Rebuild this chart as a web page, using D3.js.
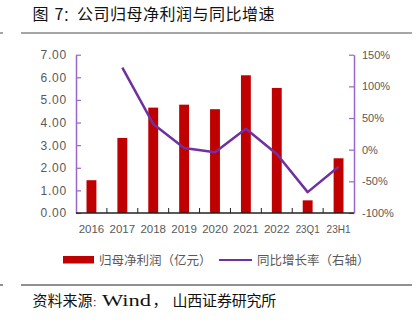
<!DOCTYPE html>
<html><head><meta charset="utf-8">
<script src="https://cdn.jsdelivr.net/npm/d3@7"></script>
<style>
body{margin:0;background:#fff;}
svg{display:block;}
</style></head>
<body><svg id="c" width="416" height="326"></svg>
<script>
const categories = ["2016","2017","2018","2019","2020","2021","2022","23Q1","23H1"];
const profit = [1.45, 3.32, 4.66, 4.79, 4.59, 6.09, 5.53, 0.56, 2.42];
const growth = [null, 129.5, 40.6, 2.7, -4.0, 33.0, -6.8, -67.0, -27.0];
const leftTicks = [0,1,2,3,4,5,6,7];
const rightTicks = [-100,-50,0,50,100,150];
const titleParts = ["图", "7", "：", "公司归母净利润与同比增速"];
const sourceParts = ["资料来源", "：", "Wind", "，", "山西证券研究所"];
const legendLabels = ["归母净利润（亿元）","同比增长率（右轴）"];

const svg = d3.select("#c");
const cjk = "'Liberation Sans','Noto Sans CJK SC',sans-serif";
const cjkOnly = "'Noto Sans CJK SC',sans-serif";
const L = 76, R = 354, T = 54.7, B = 213;
const barColor = "#C00000", lineColor = "#7030A0", axisPurple = "#9966CC";

// title
const tt = svg.append("text").attr("y",19.5).attr("font-size",16)
  .attr("font-family",cjkOnly).attr("fill","#111");
tt.append("tspan").attr("x",32.5).text(titleParts[0]);
tt.append("tspan").attr("x",54.5).text(titleParts[1]);
tt.append("tspan").attr("x",63).attr("font-size",13.5).text(titleParts[2]);
tt.append("tspan").attr("x",77).attr("letter-spacing","0.5px").text(titleParts[3]);
svg.append("line").attr("x1",21).attr("x2",412).attr("y1",33).attr("y2",33)
  .attr("stroke","#888").attr("stroke-width",1.5);
svg.append("line").attr("x1",0).attr("x2",3).attr("y1",33).attr("y2",33)
  .attr("stroke","#888").attr("stroke-width",1.5);

const x = d3.scaleBand().domain(categories).range([L,R]).paddingInner(0.68).paddingOuter(0.34);
const xs = d3.scaleBand().domain(categories).range([L,R]);
const yL = d3.scaleLinear().domain([0,7]).range([B,T]);
const yR = d3.scaleLinear().domain([-100,150]).range([B,T]);

// bars
svg.append("g").selectAll("rect").data(profit).join("rect")
  .attr("x",(d,i)=>x(categories[i])).attr("width",x.bandwidth())
  .attr("y",d=>yL(d)).attr("height",d=>B-yL(d)).attr("fill",barColor);

// left axis
const gl = svg.append("g").attr("transform",`translate(${L},0)`)
  .call(d3.axisLeft(yL).tickValues(leftTicks).tickFormat(d3.format(".2f")).tickSizeInner(-5).tickSizeOuter(0).tickPadding(9));
gl.select(".domain").attr("stroke",axisPurple).attr("stroke-width",1.5);
gl.selectAll(".tick line").attr("stroke",axisPurple).attr("stroke-width",1.2);
gl.selectAll(".tick text").attr("font-size",12).attr("font-family",cjk).attr("fill","#595959").attr("letter-spacing","0.8px");

// right axis
const gr = svg.append("g").attr("transform",`translate(${R},0)`)
  .call(d3.axisRight(yR).tickValues(rightTicks).tickFormat(d=>d+"%").tickSizeInner(-5).tickSizeOuter(0).tickPadding(8));
gr.select(".domain").attr("stroke",axisPurple).attr("stroke-width",1.5);
gr.selectAll(".tick line").attr("stroke",axisPurple).attr("stroke-width",1.2);
gr.selectAll(".tick text").attr("font-size",11).attr("font-family",cjk).attr("fill","#595959");

// bottom axis
const gb = svg.append("g").attr("transform",`translate(0,${B})`);
gb.append("line").attr("x1",L).attr("x2",R).attr("y1",0).attr("y2",0).attr("stroke","#222").attr("stroke-width",1.5);
gb.selectAll("line.t").data(categories.slice(1)).join("line").attr("class","t")
  .attr("x1",d=>xs(d)).attr("x2",d=>xs(d)).attr("y1",0).attr("y2",-5).attr("stroke","#222").attr("stroke-width",1);
gb.selectAll("text").data(categories).join("text")
  .attr("x",d=>xs(d)+xs.bandwidth()/2).attr("y",20).attr("text-anchor","middle")
  .attr("font-size",11.5).attr("font-family",cjk).attr("fill","#595959")
  .attr("textLength",d=>/[A-Z]/.test(d)?24:null).attr("lengthAdjust","spacingAndGlyphs")
  .text(d=>d);

// line
const line = d3.line().defined(d=>d!==null)
  .x((d,i)=>xs(categories[i])+xs.bandwidth()/2).y(d=>yR(d));
svg.append("path").datum(growth).attr("d",line).attr("fill","none")
  .attr("stroke",lineColor).attr("stroke-width",2.5).attr("stroke-linejoin","round");

// legend
const lg = svg.append("g");
lg.append("rect").attr("x",63).attr("y",256).attr("width",31).attr("height",7.5).attr("fill",barColor);
lg.append("text").attr("x",99).attr("y",264.5).attr("font-size",12.5).attr("font-family",cjkOnly).attr("fill","#595959").text(legendLabels[0]);
lg.append("line").attr("x1",219).attr("x2",252).attr("y1",260).attr("y2",260).attr("stroke",lineColor).attr("stroke-width",2);
lg.append("text").attr("x",257).attr("y",264.5).attr("font-size",12.5).attr("font-family",cjkOnly).attr("fill","#595959").text(legendLabels[1]);

// footer
svg.append("line").attr("x1",21).attr("x2",412).attr("y1",285).attr("y2",285).attr("stroke","#222").attr("stroke-width",1);
svg.append("line").attr("x1",0).attr("x2",3).attr("y1",285).attr("y2",285).attr("stroke","#222").attr("stroke-width",1);
const st = svg.append("text").attr("y",306).attr("font-size",15).attr("fill","#111")
  .attr("font-family","'Noto Sans CJK SC',serif");
st.append("tspan").attr("x",32.5).text(sourceParts[0]);
st.append("tspan").attr("x",92.5).attr("font-size",9).text(sourceParts[1]);
st.append("tspan").attr("x",102).attr("font-family","'Liberation Serif',serif").attr("font-size",16)
  .attr("textLength",49).attr("lengthAdjust","spacingAndGlyphs").text(sourceParts[2]);
st.append("tspan").attr("x",152.5).text(sourceParts[3]);
st.append("tspan").attr("x",172.5).attr("letter-spacing","-0.2px").text(sourceParts[4]);
</script></body></html>
